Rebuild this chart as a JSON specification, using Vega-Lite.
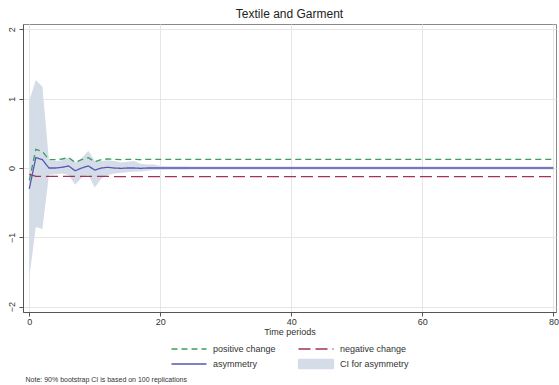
{
  "$schema": "https://vega.github.io/schema/vega-lite/v6.json",
  "autosize": {"type": "none"},
  "width": 533,
  "height": 288,
  "padding": {"left": 23, "top": 24, "right": 3, "bottom": 73},
  "background": "white",
  "title": {"text": "Textile and Garment", "font": "Liberation Sans", "fontSize": 12, "fontWeight": "normal", "color": "#222", "offset": 3},
  "config": {
    "font": "Liberation Sans",
    "view": {"stroke": "#8a8a8a", "strokeWidth": 1},
    "axis": {"labelFont": "Liberation Sans", "titleFont": "Liberation Sans", "labelColor": "#333", "titleColor": "#333", "gridColor": "#e6e6e6", "gridWidth": 1, "domainColor": "#555", "tickColor": "#555", "tickSize": 4, "labelFontSize": 9, "titleFontSize": 9, "titleFontWeight": "normal"}
  },
  "data": {"values": [
    {"t":0,"pos":-0.18,"neg":-0.09,"asym":-0.30,"lo":-1.58,"hi":0.97},
    {"t":1,"pos":0.27,"neg":-0.12,"asym":0.15,"lo":-0.85,"hi":1.27},
    {"t":2,"pos":0.24,"neg":-0.12,"asym":0.12,"lo":-0.88,"hi":1.17},
    {"t":3,"pos":0.12,"neg":-0.12,"asym":0.0,"lo":-0.10,"hi":0.11},
    {"t":4,"pos":0.12,"neg":-0.12,"asym":0.0,"lo":-0.09,"hi":0.10},
    {"t":5,"pos":0.13,"neg":-0.12,"asym":0.01,"lo":-0.08,"hi":0.11},
    {"t":6,"pos":0.15,"neg":-0.12,"asym":0.03,"lo":-0.10,"hi":0.15},
    {"t":7,"pos":0.08,"neg":-0.12,"asym":-0.04,"lo":-0.24,"hi":0.08},
    {"t":8,"pos":0.12,"neg":-0.12,"asym":0.0,"lo":-0.14,"hi":0.14},
    {"t":9,"pos":0.15,"neg":-0.12,"asym":0.03,"lo":-0.10,"hi":0.25},
    {"t":10,"pos":0.09,"neg":-0.12,"asym":-0.03,"lo":-0.28,"hi":0.10},
    {"t":11,"pos":0.12,"neg":-0.12,"asym":0.0,"lo":-0.15,"hi":0.10},
    {"t":12,"pos":0.13,"neg":-0.12,"asym":0.01,"lo":-0.10,"hi":0.11},
    {"t":13,"pos":0.125,"neg":-0.125,"asym":0.0,"lo":-0.08,"hi":0.10},
    {"t":14,"pos":0.12,"neg":-0.125,"asym":-0.005,"lo":-0.07,"hi":0.08},
    {"t":15,"pos":0.125,"neg":-0.125,"asym":0.0,"lo":-0.06,"hi":0.09},
    {"t":16,"pos":0.125,"neg":-0.125,"asym":0.0,"lo":-0.05,"hi":0.10},
    {"t":17,"pos":0.12,"neg":-0.125,"asym":-0.005,"lo":-0.05,"hi":0.06},
    {"t":18,"pos":0.125,"neg":-0.125,"asym":0.0,"lo":-0.04,"hi":0.05},
    {"t":19,"pos":0.125,"neg":-0.125,"asym":0.0,"lo":-0.03,"hi":0.05},
    {"t":20,"pos":0.125,"neg":-0.125,"asym":0.0,"lo":-0.03,"hi":0.03},
    {"t":21,"pos":0.125,"neg":-0.125,"asym":0.0,"lo":-0.025,"hi":0.025},
    {"t":22,"pos":0.125,"neg":-0.125,"asym":0.0,"lo":-0.025,"hi":0.025},
    {"t":23,"pos":0.125,"neg":-0.125,"asym":0.0,"lo":-0.025,"hi":0.025},
    {"t":24,"pos":0.125,"neg":-0.125,"asym":0.0,"lo":-0.025,"hi":0.025},
    {"t":25,"pos":0.125,"neg":-0.125,"asym":0.0,"lo":-0.02,"hi":0.02},
    {"t":26,"pos":0.125,"neg":-0.125,"asym":0.0,"lo":-0.02,"hi":0.02},
    {"t":27,"pos":0.125,"neg":-0.125,"asym":0.0,"lo":-0.02,"hi":0.02},
    {"t":28,"pos":0.125,"neg":-0.125,"asym":0.0,"lo":-0.02,"hi":0.02},
    {"t":29,"pos":0.125,"neg":-0.125,"asym":0.0,"lo":-0.02,"hi":0.02},
    {"t":30,"pos":0.125,"neg":-0.125,"asym":0.0,"lo":-0.02,"hi":0.02},
    {"t":31,"pos":0.125,"neg":-0.125,"asym":0.0,"lo":-0.02,"hi":0.02},
    {"t":32,"pos":0.125,"neg":-0.125,"asym":0.0,"lo":-0.02,"hi":0.02},
    {"t":33,"pos":0.125,"neg":-0.125,"asym":0.0,"lo":-0.02,"hi":0.02},
    {"t":34,"pos":0.125,"neg":-0.125,"asym":0.0,"lo":-0.02,"hi":0.02},
    {"t":35,"pos":0.125,"neg":-0.125,"asym":0.0,"lo":-0.02,"hi":0.02},
    {"t":36,"pos":0.125,"neg":-0.125,"asym":0.0,"lo":-0.02,"hi":0.02},
    {"t":37,"pos":0.125,"neg":-0.125,"asym":0.0,"lo":-0.02,"hi":0.02},
    {"t":38,"pos":0.125,"neg":-0.125,"asym":0.0,"lo":-0.02,"hi":0.02},
    {"t":39,"pos":0.125,"neg":-0.125,"asym":0.0,"lo":-0.02,"hi":0.02},
    {"t":40,"pos":0.125,"neg":-0.125,"asym":0.0,"lo":-0.02,"hi":0.02},
    {"t":41,"pos":0.125,"neg":-0.125,"asym":0.0,"lo":-0.02,"hi":0.02},
    {"t":42,"pos":0.125,"neg":-0.125,"asym":0.0,"lo":-0.02,"hi":0.02},
    {"t":43,"pos":0.125,"neg":-0.125,"asym":0.0,"lo":-0.02,"hi":0.02},
    {"t":44,"pos":0.125,"neg":-0.125,"asym":0.0,"lo":-0.02,"hi":0.02},
    {"t":45,"pos":0.125,"neg":-0.125,"asym":0.0,"lo":-0.02,"hi":0.02},
    {"t":46,"pos":0.125,"neg":-0.125,"asym":0.0,"lo":-0.02,"hi":0.02},
    {"t":47,"pos":0.125,"neg":-0.125,"asym":0.0,"lo":-0.02,"hi":0.02},
    {"t":48,"pos":0.125,"neg":-0.125,"asym":0.0,"lo":-0.02,"hi":0.02},
    {"t":49,"pos":0.125,"neg":-0.125,"asym":0.0,"lo":-0.02,"hi":0.02},
    {"t":50,"pos":0.125,"neg":-0.125,"asym":0.0,"lo":-0.02,"hi":0.02},
    {"t":51,"pos":0.125,"neg":-0.125,"asym":0.0,"lo":-0.02,"hi":0.02},
    {"t":52,"pos":0.125,"neg":-0.125,"asym":0.0,"lo":-0.02,"hi":0.02},
    {"t":53,"pos":0.125,"neg":-0.125,"asym":0.0,"lo":-0.02,"hi":0.02},
    {"t":54,"pos":0.125,"neg":-0.125,"asym":0.0,"lo":-0.02,"hi":0.02},
    {"t":55,"pos":0.125,"neg":-0.125,"asym":0.0,"lo":-0.02,"hi":0.02},
    {"t":56,"pos":0.125,"neg":-0.125,"asym":0.0,"lo":-0.02,"hi":0.02},
    {"t":57,"pos":0.125,"neg":-0.125,"asym":0.0,"lo":-0.02,"hi":0.02},
    {"t":58,"pos":0.125,"neg":-0.125,"asym":0.0,"lo":-0.02,"hi":0.02},
    {"t":59,"pos":0.125,"neg":-0.125,"asym":0.0,"lo":-0.02,"hi":0.02},
    {"t":60,"pos":0.125,"neg":-0.125,"asym":0.0,"lo":-0.02,"hi":0.02},
    {"t":61,"pos":0.125,"neg":-0.125,"asym":0.0,"lo":-0.02,"hi":0.02},
    {"t":62,"pos":0.125,"neg":-0.125,"asym":0.0,"lo":-0.02,"hi":0.02},
    {"t":63,"pos":0.125,"neg":-0.125,"asym":0.0,"lo":-0.02,"hi":0.02},
    {"t":64,"pos":0.125,"neg":-0.125,"asym":0.0,"lo":-0.02,"hi":0.02},
    {"t":65,"pos":0.125,"neg":-0.125,"asym":0.0,"lo":-0.02,"hi":0.02},
    {"t":66,"pos":0.125,"neg":-0.125,"asym":0.0,"lo":-0.02,"hi":0.02},
    {"t":67,"pos":0.125,"neg":-0.125,"asym":0.0,"lo":-0.02,"hi":0.02},
    {"t":68,"pos":0.125,"neg":-0.125,"asym":0.0,"lo":-0.02,"hi":0.02},
    {"t":69,"pos":0.125,"neg":-0.125,"asym":0.0,"lo":-0.02,"hi":0.02},
    {"t":70,"pos":0.125,"neg":-0.125,"asym":0.0,"lo":-0.02,"hi":0.02},
    {"t":71,"pos":0.125,"neg":-0.125,"asym":0.0,"lo":-0.02,"hi":0.02},
    {"t":72,"pos":0.125,"neg":-0.125,"asym":0.0,"lo":-0.02,"hi":0.02},
    {"t":73,"pos":0.125,"neg":-0.125,"asym":0.0,"lo":-0.02,"hi":0.02},
    {"t":74,"pos":0.125,"neg":-0.125,"asym":0.0,"lo":-0.02,"hi":0.02},
    {"t":75,"pos":0.125,"neg":-0.125,"asym":0.0,"lo":-0.02,"hi":0.02},
    {"t":76,"pos":0.125,"neg":-0.125,"asym":0.0,"lo":-0.02,"hi":0.02},
    {"t":77,"pos":0.125,"neg":-0.125,"asym":0.0,"lo":-0.02,"hi":0.02},
    {"t":78,"pos":0.125,"neg":-0.125,"asym":0.0,"lo":-0.02,"hi":0.02},
    {"t":79,"pos":0.125,"neg":-0.125,"asym":0.0,"lo":-0.02,"hi":0.02},
    {"t":80,"pos":0.125,"neg":-0.125,"asym":0.0,"lo":-0.02,"hi":0.02}
  ]},
  "layer": [
    {
      "mark": {"type": "area", "color": "#d4dce8", "opacity": 1},
      "encoding": {
        "x": {"field": "t", "type": "quantitative", "scale": {"domain": [-0.96, 80.4], "nice": false, "zero": false},
              "axis": {"orient": "bottom", "values": [0, 20, 40, 60, 80], "title": "Time periods", "titleBaseline": "top", "titleY": 15, "labelPadding": 1, "grid": true}},
        "y": {"field": "lo", "type": "quantitative", "scale": {"domain": [-2.076, 2.076], "nice": false},
              "axis": {"values": [-2, -1, 0, 1, 2], "format": "d", "title": null, "labelAngle": -90, "labelAlign": "center", "labelBaseline": "bottom", "labelPadding": 3, "grid": true}},
        "y2": {"field": "hi"}
      }
    },
    {
      "transform": [{"fold": ["pos", "neg", "asym"], "as": ["series", "value"]}],
      "mark": {"type": "line", "strokeWidth": 1.3},
      "encoding": {
        "x": {"field": "t", "type": "quantitative",
              "axis": {"orient": "bottom", "title": "Note: 90% bootstrap CI is based on 100 replications", "labels": false, "ticks": false, "domain": false, "grid": false, "titleFontSize": 7, "titleColor": "#333", "titleAnchor": "start", "titleAlign": "left", "titleX": 2, "titleY": 63}},
        "y": {"field": "value", "type": "quantitative"},
        "color": {"field": "series", "type": "nominal",
                  "scale": {"domain": ["pos", "asym", "neg", "ci"], "range": ["#3a9e5c", "#5656b4", "#a4305c", "#d4dce8"]},
                  "legend": {"orient": "none", "legendX": 160, "legendY": 319, "columns": 2, "columnPadding": 19, "rowPadding": 2,
                             "title": null, "labelFontSize": 9, "labelColor": "#333", "labelOffset": 18, "symbolSize": 100, "symbolStrokeWidth": 1.3,
                             "labelExpr": "datum.value === 'pos' ? 'positive change' : datum.value === 'neg' ? 'negative change' : datum.value === 'asym' ? 'asymmetry' : 'CI for asymmetry'",
                             "encode": {"symbols": {"update": {
                               "shape": {"signal": "datum.value === 'ci' ? 'M-3.5,-0.9H3.5V0.9H-3.5Z' : 'M-3.5,0H3.5'"},
                               "fill": {"signal": "datum.value === 'ci' ? '#d4dce8' : 'transparent'"},
                               "fillOpacity": {"value": 1}
                             }}}}},
        "strokeDash": {"field": "series", "type": "nominal",
                       "scale": {"domain": ["pos", "asym", "neg", "ci"], "range": [[6, 4], [1, 0], [12, 5], [1, 0]]}}
      }
    }
  ],
  "resolve": {"axis": {"x": "independent"}}
}
